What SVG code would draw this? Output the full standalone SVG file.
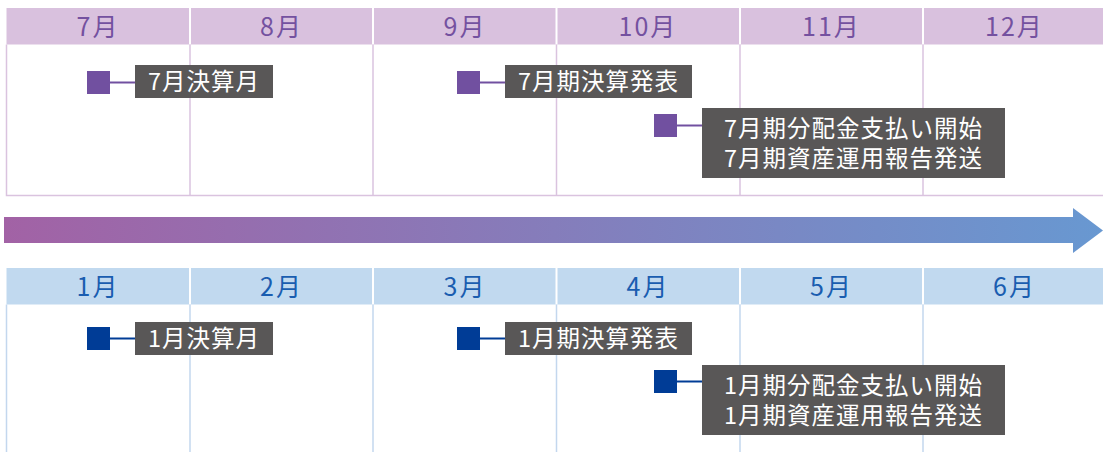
<svg xmlns="http://www.w3.org/2000/svg" width="1103" height="452" viewBox="0 0 1103 452">
<defs>
<linearGradient id="arrowGrad" x1="0" y1="0" x2="1" y2="0">
<stop offset="0" stop-color="#a262a5"/>
<stop offset="1" stop-color="#6898d1"/>
</linearGradient>
<style>
.mp{font-family:"Noto Sans CJK JP","Noto Sans",sans-serif;font-size:25px;fill:#7451a0;text-anchor:middle;letter-spacing:2px}
.mb{font-family:"Noto Sans CJK JP","Noto Sans",sans-serif;font-size:25px;fill:#1a5db0;text-anchor:middle;letter-spacing:2px}
.lbl{font-family:"Noto Sans CJK JP","Noto Sans",sans-serif;font-size:23.5px;fill:#ffffff;letter-spacing:1px}
.box{fill:#595757}
.gp{stroke:#dac3df;stroke-width:1.5;fill:none}
.gb{stroke:#c3d7ee;stroke-width:1.5;fill:none}
.sep{stroke:#ffffff;stroke-width:2}
</style>
</defs>

<g id="top-grid">
<rect x="6.5" y="8" width="1097" height="36.5" fill="#d9c1de"/>
<path class="sep" d="M190 8V44.5M373 8V44.5M556.5 8V44.5M740 8V44.5M923 8V44.5"/>
<path class="gp" d="M6.5 44.5V195.5H1103M190 44.5V195.5M373 44.5V195.5M556.5 44.5V195.5M740 44.5V195.5M923 44.5V195.5"/>
<text class="mp" x="98" y="35.5">7月</text>
<text class="mp" x="281.5" y="35.5">8月</text>
<text class="mp" x="465" y="35.5">9月</text>
<text class="mp" x="648" y="35.5">10月</text>
<text class="mp" x="831.5" y="35.5">11月</text>
<text class="mp" x="1014.5" y="35.5">12月</text>
</g>

<g id="arrow">
<polygon points="4,217 1073,217 1073,208 1103,230.5 1073,253 1073,243 4,243" fill="url(#arrowGrad)"/>
</g>

<g id="bottom-grid">
<rect x="6.5" y="268" width="1097" height="36.5" fill="#c1d9ef"/>
<path class="sep" d="M190 268V304.5M373 268V304.5M556.5 268V304.5M740 268V304.5M923 268V304.5"/>
<path class="gb" d="M6.5 304.5V452M190 304.5V452M373 304.5V452M556.5 304.5V452M740 304.5V452M923 304.5V452"/>
<text class="mb" x="98" y="295.5">1月</text>
<text class="mb" x="281.5" y="295.5">2月</text>
<text class="mb" x="465" y="295.5">3月</text>
<text class="mb" x="648" y="295.5">4月</text>
<text class="mb" x="831.5" y="295.5">5月</text>
<text class="mb" x="1014.5" y="295.5">6月</text>
</g>

<g id="connectors">
<line x1="110" y1="82.5" x2="135" y2="82.5" stroke="#7150a0" stroke-width="2"/>
<line x1="480" y1="82.5" x2="505" y2="82.5" stroke="#7150a0" stroke-width="2"/>
<line x1="677" y1="125.5" x2="702" y2="125.5" stroke="#7150a0" stroke-width="2"/>
<line x1="110" y1="338.5" x2="135" y2="338.5" stroke="#003c96" stroke-width="2"/>
<line x1="480" y1="338.5" x2="505" y2="338.5" stroke="#003c96" stroke-width="2"/>
<line x1="677" y1="381.5" x2="702" y2="381.5" stroke="#003c96" stroke-width="2"/>
</g>

<g id="ev-jul-settle">
<rect x="87" y="71" width="23" height="23" fill="#7150a0"/>
<rect class="box" x="135" y="65" width="138" height="33"/>
<text class="lbl" x="204" y="90" text-anchor="middle">7月決算月</text>
</g>
<g id="ev-jul-announce">
<rect x="457" y="71" width="23" height="23" fill="#7150a0"/>
<rect class="box" x="505" y="65" width="187" height="33"/>
<text class="lbl" x="598.5" y="90" text-anchor="middle">7月期決算発表</text>
</g>
<g id="ev-jul-dist">
<rect x="654" y="114" width="23" height="23" fill="#7150a0"/>
<rect class="box" x="702" y="108" width="303" height="70"/>
<text class="lbl" x="853.5" y="136.5" text-anchor="middle">7月期分配金支払い開始</text>
<text class="lbl" x="853.5" y="166.5" text-anchor="middle">7月期資産運用報告発送</text>
</g>

<g id="ev-jan-settle">
<rect x="87" y="327" width="23" height="23" fill="#003c96"/>
<rect class="box" x="135" y="322" width="138" height="33"/>
<text class="lbl" x="204" y="347" text-anchor="middle">1月決算月</text>
</g>
<g id="ev-jan-announce">
<rect x="457" y="327" width="23" height="23" fill="#003c96"/>
<rect class="box" x="505" y="322" width="187" height="33"/>
<text class="lbl" x="598.5" y="347" text-anchor="middle">1月期決算発表</text>
</g>
<g id="ev-jan-dist">
<rect x="654" y="370" width="23" height="23" fill="#003c96"/>
<rect class="box" x="702" y="365" width="303" height="70"/>
<text class="lbl" x="853.5" y="393.5" text-anchor="middle">1月期分配金支払い開始</text>
<text class="lbl" x="853.5" y="423.5" text-anchor="middle">1月期資産運用報告発送</text>
</g>
</svg>
